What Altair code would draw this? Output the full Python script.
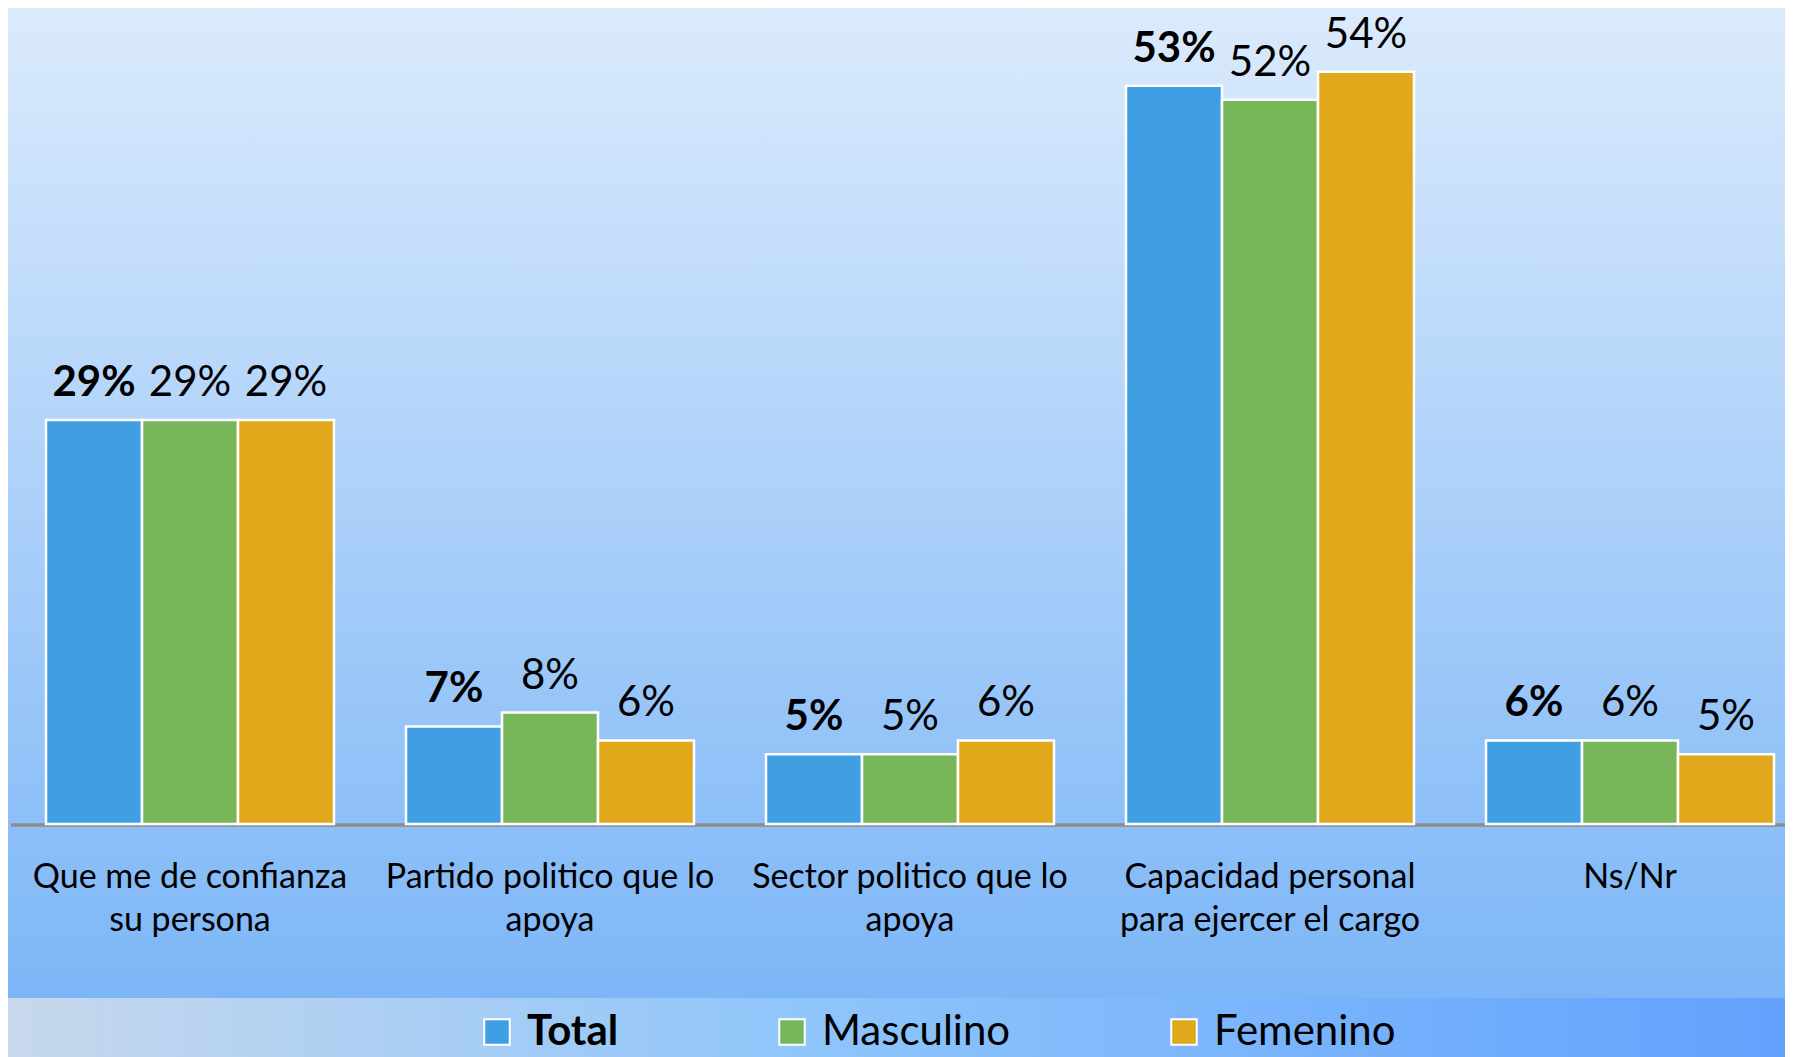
import altair as alt
import pandas as pd

categories = ["Que me de confianza|su persona", "Partido politico que lo|apoya",
              "Sector politico que lo|apoya", "Capacidad personal|para ejercer el cargo", "Ns/Nr"]
series = ["Total", "Masculino", "Femenino"]
total = [29, 7, 5, 53, 6]
masculino = [29, 8, 5, 52, 6]
femenino = [29, 6, 6, 54, 5]
colors = ["#409ee3", "#78b65a", "#e2a81b"]

rows = []
for s, vals in zip(series, [total, masculino, femenino]):
    for c, v in zip(categories, vals):
        rows.append({"cat": c, "serie": s, "value": v, "label": f"{v}%"})
df = pd.DataFrame(rows)

W, H = 1777, 816
TOTAL_H = 1049
FONT = "Lato"

xscale = alt.Scale(domain=categories, range=[2, 1802], paddingInner=0.2, paddingOuter=0.1)
yscale = alt.Scale(domain=[0, 58.58], nice=False, zero=True)
offscale = alt.Scale(domain=series, paddingInner=0, paddingOuter=0)

one = pd.DataFrame({"a": [0]})

bg = alt.Chart(one).mark_rect(
    color=alt.LinearGradient(gradient="linear", x1=0, x2=0, y1=0, y2=1,
                             stops=[alt.GradientStop(color="#dcebfc", offset=0),
                                    alt.GradientStop(color="#7cb6f7", offset=1)])
).encode(x=alt.value(-10), x2=alt.value(1800), y=alt.value(-10), y2=alt.value(990))

strip = alt.Chart(one).mark_rect(
    color=alt.LinearGradient(gradient="linear", x1=0, x2=1, y1=0, y2=0,
                             stops=[alt.GradientStop(color="#c8d8ec", offset=0),
                                    alt.GradientStop(color="#8ec5fb", offset=0.45),
                                    alt.GradientStop(color="#62a0fd", offset=1)])
).encode(x=alt.value(-10), x2=alt.value(1800), y=alt.value(990), y2=alt.value(1070))

axis_line = alt.Chart(one).mark_rule(color="#8c8c8c", strokeWidth=3.5).encode(
    x=alt.value(3), x2=alt.value(1790), y=alt.value(H + 1))

base = alt.Chart(df)

xaxis = alt.Axis(labelExpr="split(datum.label, '|')", labelAngle=0, domain=False,
                 ticks=False, tickSize=0, labelPadding=36, labelFontSize=34,
                 labelFont=FONT, labelColor="black", labelLineHeight=43,
                 labelLimit=0, grid=False, zindex=1, title=None)

bars = base.mark_bar(stroke="white", strokeWidth=2.5).encode(
    x=alt.X("cat:N", scale=xscale, sort=categories, title=None, axis=xaxis),
    xOffset=alt.XOffset("serie:N", scale=offscale, sort=series),
    y=alt.Y("value:Q", scale=yscale, axis=None),
    color=alt.Color("serie:N", scale=alt.Scale(domain=series, range=colors), sort=series,
                    legend=alt.Legend(title=None, orient="none", legendX=468, legendY=1003,
                                      direction="horizontal", symbolType="square",
                                      symbolSize=650, symbolStrokeColor="white",
                                      symbolStrokeWidth=2, labelFont=FONT, labelFontSize=42,
                                      labelColor="black", labelOffset=9, columnPadding=152,
                                      labelLimit=0, padding=0,
                                      labelFontWeight=alt.ExprRef(
                                          expr="datum.label === 'Total' ? 'bold' : 'normal'"))),
)

txt_common = dict(align="center", baseline="alphabetic", dy=-24, fontSize=42, font=FONT, color="black")
enc = dict(
    x=alt.X("cat:N", scale=xscale, sort=categories, axis=xaxis),
    xOffset=alt.XOffset("serie:N", scale=offscale, sort=series),
    y=alt.Y("value:Q", scale=yscale, axis=None),
    text="label:N",
)
txt_total = base.transform_filter("datum.serie === 'Total'").mark_text(fontWeight="bold", **txt_common).encode(**enc)
txt_other = base.transform_filter("datum.serie !== 'Total'").mark_text(fontWeight="normal", **txt_common).encode(**enc)

chart = alt.layer(bg, strip, axis_line, bars, txt_total, txt_other).properties(
    width=W, height=H,
    autosize=alt.AutoSizeParams(type="none"),
    padding={"left": 0, "top": 0, "right": 0, "bottom": TOTAL_H - H},
).configure_view(stroke=None)

chart.save("out.html", embed_options={"renderer": "svg", "actions": False})
